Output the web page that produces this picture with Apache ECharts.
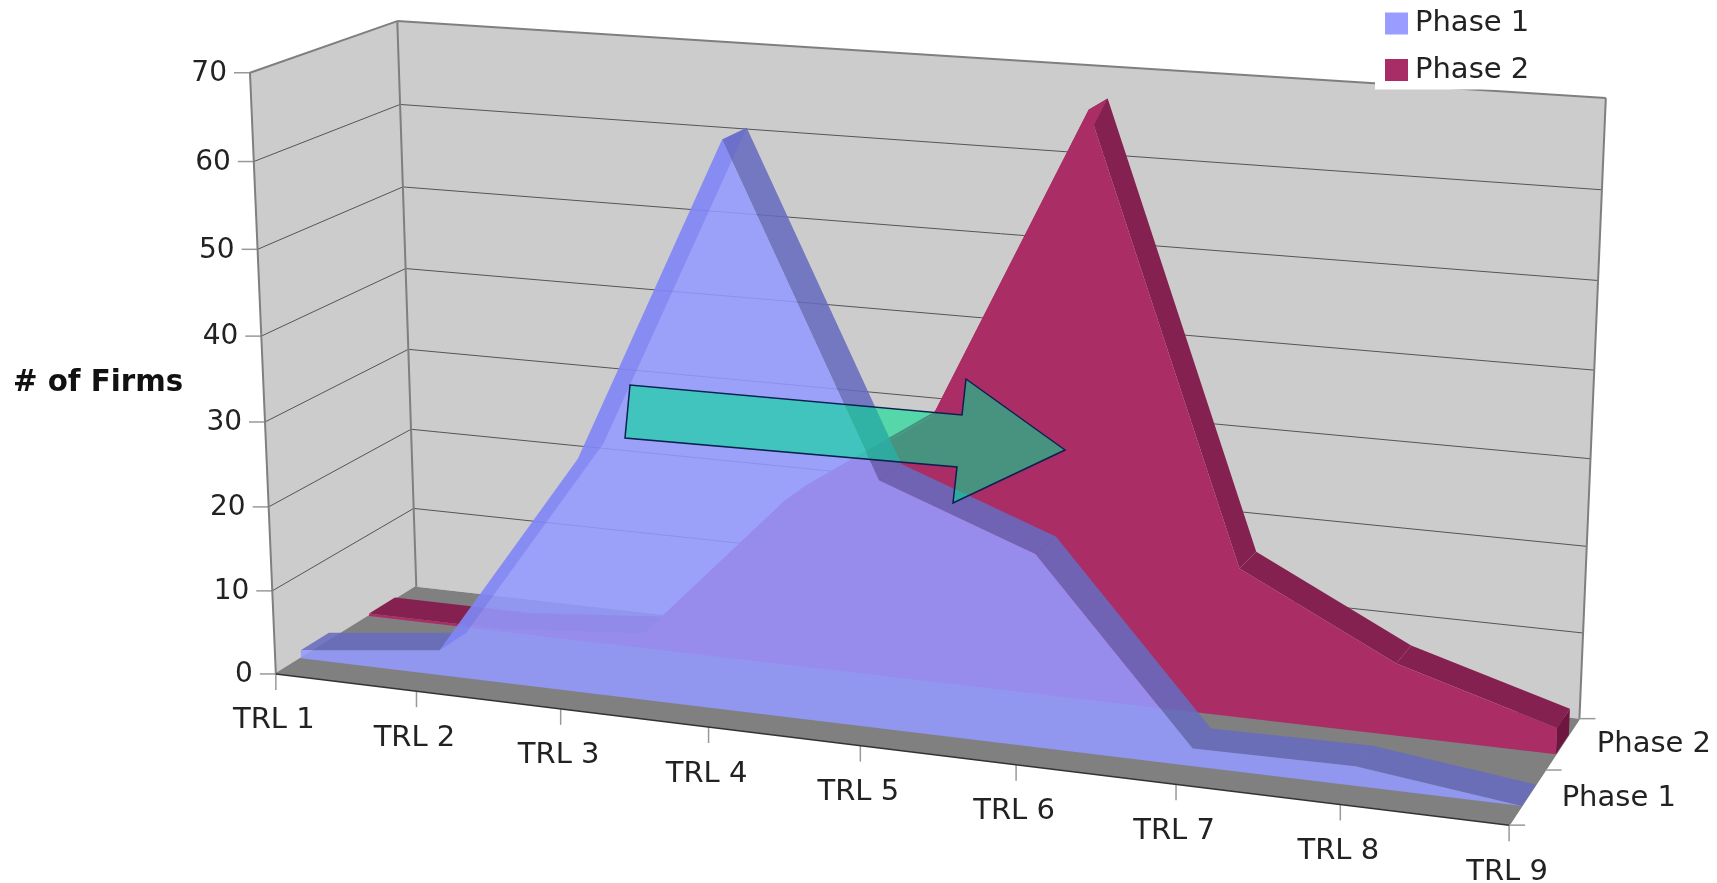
<!DOCTYPE html>
<html>
<head>
<meta charset="utf-8">
<title># of Firms by TRL</title>
<style>
html, body { margin: 0; background: #fff; }
#chart { width: 1717px; height: 883px; }
</style>
<script src="https://cdn.jsdelivr.net/npm/echarts@6/dist/echarts.min.js"></script>
</head>
<body>
<div id="chart"></div>
<script>
var categories = ['TRL 1', 'TRL 2', 'TRL 3', 'TRL 4', 'TRL 5', 'TRL 6', 'TRL 7', 'TRL 8', 'TRL 9'];
var yTicks = [0, 10, 20, 30, 40, 50, 60, 70];
var phaseNames = ['Phase 1', 'Phase 2'];
var phase1 = [1, 3, 27.5, 65, 28.5, 22, 2, 2.2, 0];
var phase2 = [0.3, 0.3, 1.8, 19.8, 31.5, 67.5, 17.3, 8.3, 3];

// depth of each slab on the floor, 0 is the front edge and 1 the back wall
var phase1Depth = [0.17, 0.365];
var phase2Depth = [0.65, 0.84];

// where known corners and ticks of the box land in the picture: x, y, depth, px, py
// (x and y as a fraction of the axes), a camera matrix is fitted through these
var anchors = [
    [0, 0, 0, 276, 674], [0, 1, 0, 250, 72], [0, 0, 1, 416, 586], [0, 1, 1, 397, 22],
    [1, 0, 0, 1509, 824], [1, 0, 1, 1580, 718], [1, 1, 1, 1606, 98],
    [1 / 8, 0, 0, 416, 692], [2 / 8, 0, 0, 561, 709], [3 / 8, 0, 0, 709, 727],
    [4 / 8, 0, 0, 861, 745], [5 / 8, 0, 0, 1016, 765], [6 / 8, 0, 0, 1176, 785], [7 / 8, 0, 0, 1339, 806],
    [0, 6 / 7, 0, 254, 162], [0, 5 / 7, 0, 257, 248], [0, 4 / 7, 0, 262, 336], [0, 6 / 7, 1, 400, 105]
];

function fitCamera(pts) {
    var n = 11, A = [], b = [], i, j, k;
    for (i = 0; i < n; i++) {
        A.push(new Array(n).fill(0));
        b.push(0);
    }
    function addRow(row, rhs) {
        for (var r = 0; r < n; r++) {
            for (var c = 0; c < n; c++) A[r][c] += row[r] * row[c];
            b[r] += row[r] * rhs;
        }
    }
    pts.forEach(function (p) {
        var X = p[0], Y = p[1], Z = p[2], u = p[3] / 1000, v = p[4] / 1000;
        addRow([X, Y, Z, 1, 0, 0, 0, 0, -u * X, -u * Y, -u * Z], u);
        addRow([0, 0, 0, 0, X, Y, Z, 1, -v * X, -v * Y, -v * Z], v);
    });
    for (i = 0; i < n; i++) {
        var best = i;
        for (j = i + 1; j < n; j++) if (Math.abs(A[j][i]) > Math.abs(A[best][i])) best = j;
        var t = A[i]; A[i] = A[best]; A[best] = t;
        t = b[i]; b[i] = b[best]; b[best] = t;
        for (j = i + 1; j < n; j++) {
            var f = A[j][i] / A[i][i];
            for (k = i; k < n; k++) A[j][k] -= f * A[i][k];
            b[j] -= f * b[i];
        }
    }
    var m = new Array(n).fill(0);
    for (i = n - 1; i >= 0; i--) {
        var s = b[i];
        for (k = i + 1; k < n; k++) s -= A[i][k] * m[k];
        m[i] = s / A[i][i];
    }
    return m;
}
var cam = fitCamera(anchors);

// x and value go through the hidden axes first, then through the camera
function project(params, api, x, value, depth) {
    var c = api.coord([x, value]);
    var g = params.coordSys;
    var X = (c[0] - g.x) / g.width, Y = 1 - (c[1] - g.y) / g.height, Z = depth;
    var w = cam[8] * X + cam[9] * Y + cam[10] * Z + 1;
    return [
        1000 * (cam[0] * X + cam[1] * Y + cam[2] * Z + cam[3]) / w,
        1000 * (cam[4] * X + cam[5] * Y + cam[6] * Z + cam[7]) / w
    ];
}

function poly(points, fill) {
    return { type: 'polygon', shape: { points: points }, style: { fill: fill } };
}
function seg(a, b, color, width) {
    return { type: 'line', shape: { x1: a[0], y1: a[1], x2: b[0], y2: b[1] }, style: { stroke: color, lineWidth: width } };
}
function label(text, x, y, align, size) {
    return {
        type: 'text',
        style: { text: text, x: x, y: y, align: align, verticalAlign: 'middle', fill: '#222', font: size + 'px "DejaVu Sans"' }
    };
}

function renderFrame(params, api) {
    var P = function (x, v, z) { return project(params, api, x, v, z); };
    var last = categories.length - 1, top = yTicks[yTicks.length - 1];
    var kids = [];
    var wallFill = '#cccccc', edge = '#7f7f7f';
    kids.push(poly([P(0, 0, 0), P(0, top, 0), P(0, top, 1), P(0, 0, 1)], wallFill));
    kids.push(poly([P(0, 0, 1), P(0, top, 1), P(last, top, 1), P(last, 0, 1)], wallFill));
    kids.push(poly([P(0, 0, 0), P(0, 0, 1), P(last, 0, 1), P(last, 0, 0)], '#808080'));
    yTicks.forEach(function (v) {
        if (v > 0 && v < top) {
            kids.push(seg(P(0, v, 0), P(0, v, 1), '#555', 1));
            kids.push(seg(P(0, v, 1), P(last, v, 1), '#555', 1));
        }
        var a = P(0, v, 0);
        kids.push(seg([a[0] - 16, a[1]], a, '#999', 1.5));
        kids.push(label(String(v), a[0] - 23, a[1] + 1, 'right', 28));
    });
    kids.push(seg(P(0, 0, 0), P(0, top, 0), edge, 2));
    kids.push(seg(P(0, top, 0), P(0, top, 1), edge, 2));
    kids.push(seg(P(0, 0, 1), P(0, top, 1), edge, 2));
    kids.push(seg(P(0, top, 1), P(last, top, 1), edge, 2));
    kids.push(seg(P(last, 0, 1), P(last, top, 1), edge, 2));
    kids.push(seg(P(0, 0, 0), P(0, 0, 1), edge, 1.5));
    kids.push(seg(P(last, 0, 0), P(last, 0, 1), edge, 1.5));
    categories.forEach(function (name, i) {
        var a = P(i, 0, 0);
        kids.push(seg(a, [a[0], a[1] + 16], '#999', 1.5));
        kids.push(label(name, a[0] - 2, a[1] + 47, 'center', 29));
    });
    [0, 0.5, 1].forEach(function (z) {
        var a = P(last, 0, z);
        kids.push(seg(a, [a[0] + 16, a[1]], '#999', 1.5));
    });
    phaseNames.forEach(function (name, i) {
        var a = P(last, 0, 0.25 + i * 0.5);
        kids.push(label(name, a[0] + 34, a[1] + 1, 'left', 29));
    });
    kids.push(seg(P(0, 0, 0), P(last, 0, 0), '#333', 1.5));
    return { type: 'group', children: kids };
}

function slabRenderer(values, depth, look) {
    return function (params, api) {
        if (params.dataIndex !== 0) return null;
        var P = function (x, v, z) { return project(params, api, x, v, z); };
        var last = values.length - 1, z0 = depth[0], z1 = depth[1];
        var kids = [], rising = [];
        var front = [P(0, 0, z0)];
        values.forEach(function (v, i) { front.push(P(i, v, z0)); });
        front.push(P(last, 0, z0));
        for (var i = 0; i < last; i++) {
            var a = values[i], b = values[i + 1];
            var face = [P(i, a, z0), P(i, a, z1), P(i + 1, b, z1), P(i + 1, b, z0)];
            // steep climbs sit behind the front face, everything else shows as the dark top
            if (b - a > 5) rising.push(face);
            else kids.push(poly(face, look.top));
        }
        if (values[last] > 0) {
            kids.push(poly([P(last, 0, z0), P(last, values[last], z0), P(last, values[last], z1), P(last, 0, z1)], look.end));
        }
        kids.push(poly(front, look.front));
        rising.forEach(function (face) { kids.push(poly(face, look.rise)); });
        return { type: 'group', children: kids };
    };
}

function asPoints(values) {
    return values.map(function (v, i) { return [i, v]; });
}

var arrowPoints = [[630, 385], [625, 438], [957, 467], [953, 503], [1065, 450], [966, 379], [962, 415]];

var chart = echarts.init(document.getElementById('chart'));
chart.setOption({
    animation: false,
    backgroundColor: '#fff',
    grid: { left: 0, right: 0, top: 0, bottom: 0 },
    xAxis: { type: 'category', data: categories, boundaryGap: false, show: false },
    yAxis: { type: 'value', min: 0, max: 70, interval: 10, show: false },
    legend: {
        data: [
            { name: 'Phase 1', itemStyle: { color: '#9a9cff' } },
            { name: 'Phase 2', itemStyle: { color: '#a82c66' } }
        ],
        orient: 'vertical',
        left: 1375,
        top: 0,
        padding: [9, 30, 5, 10],
        itemWidth: 23,
        itemHeight: 22,
        itemGap: 17.5,
        icon: 'rect',
        selectedMode: false,
        backgroundColor: '#fff',
        textStyle: { color: '#222', fontFamily: 'DejaVu Sans', fontSize: 29, lineHeight: 26, padding: [0, 0, 0, 2] }
    },
    graphic: [
        {
            type: 'polygon',
            z: 50,
            shape: { points: arrowPoints },
            style: { fill: 'rgba(0,222,145,0.58)', stroke: '#0a2050', lineWidth: 1.5 }
        },
        {
            type: 'text',
            z: 50,
            style: { text: '# of Firms', x: 13, y: 383, verticalAlign: 'middle', fill: '#111', font: 'bold 29.3px "DejaVu Sans"' }
        }
    ],
    series: [
        {
            type: 'custom',
            name: 'frame',
            silent: true,
            z: 1,
            renderItem: renderFrame,
            data: [[0, 0]]
        },
        {
            type: 'custom',
            name: 'Phase 2',
            silent: true,
            z: 2,
            itemStyle: { color: '#a82c66' },
            renderItem: slabRenderer(phase2, phase2Depth, {
                front: '#ab2d66', top: '#852150', rise: '#ab2d66', end: '#6e1540'
            }),
            encode: { x: 0, y: 1 },
            data: asPoints(phase2)
        },
        {
            type: 'custom',
            name: 'Phase 1',
            silent: true,
            z: 3,
            itemStyle: { color: '#9a9cff' },
            renderItem: slabRenderer(phase1, phase1Depth, {
                front: 'rgba(148,153,255,0.875)', top: 'rgba(103,108,190,0.875)',
                rise: 'rgba(90,95,230,0.3)', end: 'rgba(103,108,190,0.875)'
            }),
            encode: { x: 0, y: 1 },
            data: asPoints(phase1)
        }
    ]
});
</script>
</body>
</html>
